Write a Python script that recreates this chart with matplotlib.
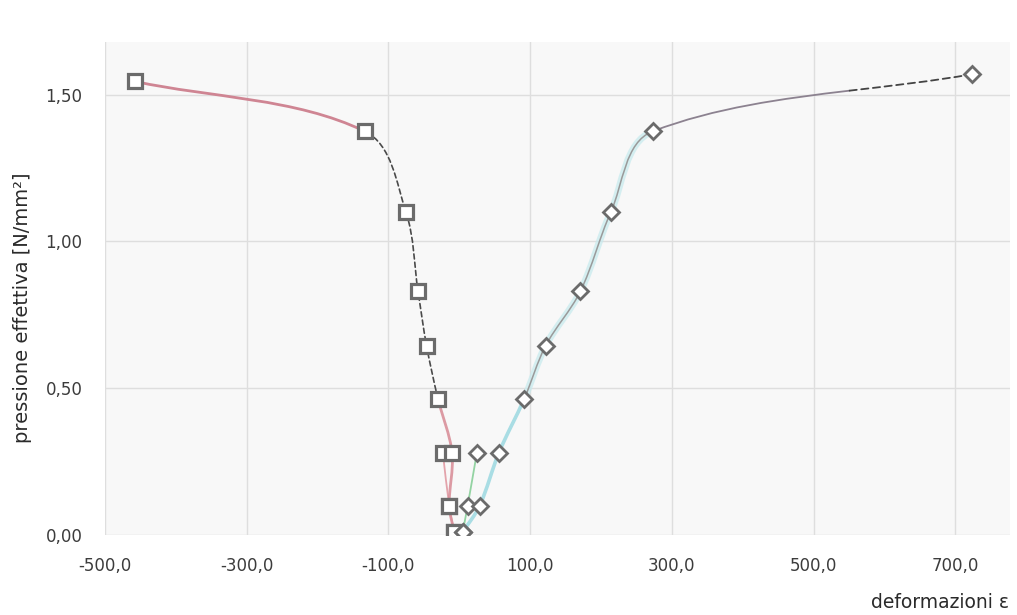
import math
import matplotlib
matplotlib.use("Agg")
import matplotlib.pyplot as plt
from matplotlib.path import Path
from matplotlib.patches import PathPatch

# Stress levels [N/mm²] and measured strains (lateral = squares, axial = diamonds)
stress_cycle1 = [0.01, 0.10, 0.28]
lateral_cycle1 = [-7, -14, -23]
axial_cycle1 = [5, 12, 25]

stress_lateral = [0.01, 0.10, 0.28, 0.465, 0.645, 0.83, 1.10, 1.375, 1.545]
lateral_strain = [-7, -14, -10, -30, -46, -58, -75, -133, -457]

stress_axial = [0.01, 0.10, 0.28, 0.465, 0.645, 0.83, 1.10, 1.375, 1.57]
axial_strain = [5, 29, 56, 92, 122, 171, 214, 273, 724]

x_ticks = [-500, -300, -100, 100, 300, 500, 700]
x_tick_labels = ["-500,0", "-300,0", "-100,0", "100,0", "300,0", "500,0", "700,0"]
y_ticks = [0.0, 0.5, 1.0, 1.5]
y_tick_labels = ["0,00", "0,50", "1,00", "1,50"]

# approximate aspect of the plotting area (screen units per data unit)
SX, SY = 0.706, 294.0


def bezier_segments(xs, ys, k=0.33):
    """Smoothed cubic Bezier segments; tangent length limited by adjacent chords."""
    pts = [(x * SX, y * SY) for x, y in zip(xs, ys)]
    n = len(pts)

    def tangent(i):
        a = pts[i - 1] if i > 0 else pts[i]
        b = pts[i + 1] if i + 1 < n else pts[i]
        dx, dy = b[0] - a[0], b[1] - a[1]
        d = math.hypot(dx, dy) or 1.0
        return dx / d, dy / d

    segs = []
    for i in range(n - 1):
        p1, p2 = pts[i], pts[i + 1]
        L = math.hypot(p2[0] - p1[0], p2[1] - p1[1]) * k
        t1, t2 = tangent(i), tangent(i + 1)
        c1 = (p1[0] + t1[0] * L, p1[1] + t1[1] * L)
        c2 = (p2[0] - t2[0] * L, p2[1] - t2[1] * L)
        segs.append(tuple((p[0] / SX, p[1] / SY) for p in (p1, c1, c2, p2)))
    return segs


def split_bezier(seg, t):
    p0, p1, p2, p3 = seg
    lerp = lambda a, b: (a[0] + (b[0] - a[0]) * t, a[1] + (b[1] - a[1]) * t)
    a = lerp(p0, p1); b = lerp(p1, p2); c = lerp(p2, p3)
    d = lerp(a, b); e = lerp(b, c); f = lerp(d, e)
    return (p0, a, d, f), (f, e, c, p3)


def draw_segs(ax, segs, **kw):
    verts, codes = [], []
    for j, (p0, c1, c2, p3) in enumerate(segs):
        if j == 0:
            verts.append(p0); codes.append(Path.MOVETO)
        verts += [c1, c2, p3]
        codes += [Path.CURVE4] * 3
    ax.add_patch(PathPatch(Path(verts, codes), fill=False, capstyle="round", **kw))


fig = plt.figure(figsize=(10.17, 6.15), dpi=100)
ax = fig.add_axes([0.103, 0.130, 0.890, 0.802])
ax.set_facecolor("#f8f8f8")

ax.set_xlim(-500, 777)
ax.set_ylim(0, 1.68)
ax.set_xticks(x_ticks)
ax.set_xticklabels(x_tick_labels)
ax.set_yticks(y_ticks)
ax.set_yticklabels(y_tick_labels)
ax.tick_params(length=0, labelsize=12, labelcolor="#3c3c3c")
ax.tick_params(axis="x", pad=16)
ax.tick_params(axis="y", pad=16)
ax.grid(True, color="#dedede", linewidth=1.0)
ax.set_axisbelow(True)
for s in ax.spines.values():
    s.set_visible(False)

# first loading cycle
draw_segs(ax, bezier_segments(lateral_cycle1, stress_cycle1), color="#e3a3ab", lw=1.3, zorder=2)
draw_segs(ax, bezier_segments(axial_cycle1, stress_cycle1), color="#93d3a2", lw=1.3, zorder=2)

# lateral branch
lat = bezier_segments(lateral_strain, stress_lateral)
draw_segs(ax, lat[:3], color="#d9909a", lw=2.0, alpha=0.9, zorder=2)
draw_segs(ax, lat[3:7], color="#4a4a4a", lw=1.2, linestyle=(0, (3, 2)), zorder=2)
draw_segs(ax, lat[7:], color="#cf8593", lw=2.0, zorder=2)

# axial branch
axs = bezier_segments(axial_strain, stress_axial)
draw_segs(ax, axs[:3], color="#a9dde4", lw=2.6, zorder=2)
draw_segs(ax, axs[3:7], color="#c6eaee", lw=5, alpha=0.7, zorder=2)
draw_segs(ax, axs[3:7], color="#9a9a9a", lw=1.1, zorder=2)
last_solid, last_dashed = split_bezier(axs[7], 0.62)
draw_segs(ax, [last_solid], color="#8c8290", lw=1.3, zorder=2)
draw_segs(ax, [last_dashed], color="#444444", lw=1.3, linestyle=(0, (4, 2.5)), zorder=2)

# markers
mk_grey = "#6b6b6b"
ax.plot(lateral_cycle1, stress_cycle1, linestyle="none", marker="s", ms=10.5,
        mfc="white", mec=mk_grey, mew=2.3, zorder=4)
ax.plot(lateral_strain, stress_lateral, linestyle="none", marker="s", ms=10.5,
        mfc="white", mec=mk_grey, mew=2.3, zorder=4)
ax.plot(axial_cycle1, stress_cycle1, linestyle="none", marker="D", ms=8.5,
        mfc="white", mec=mk_grey, mew=2.0, zorder=4)
ax.plot(axial_strain, stress_axial, linestyle="none", marker="D", ms=8.5,
        mfc="white", mec=mk_grey, mew=2.0, zorder=4)

fig.text(0.0226, 0.499, "pressione effettiva [N/mm²]", rotation=90, ha="center", va="center",
         fontsize=14, color="#2a2a2a")
fig.text(0.924, 0.020, "deformazioni ε", ha="center", va="center", fontsize=13.5, color="#2a2a2a")

fig.savefig("out.png", dpi=100, facecolor="white")
